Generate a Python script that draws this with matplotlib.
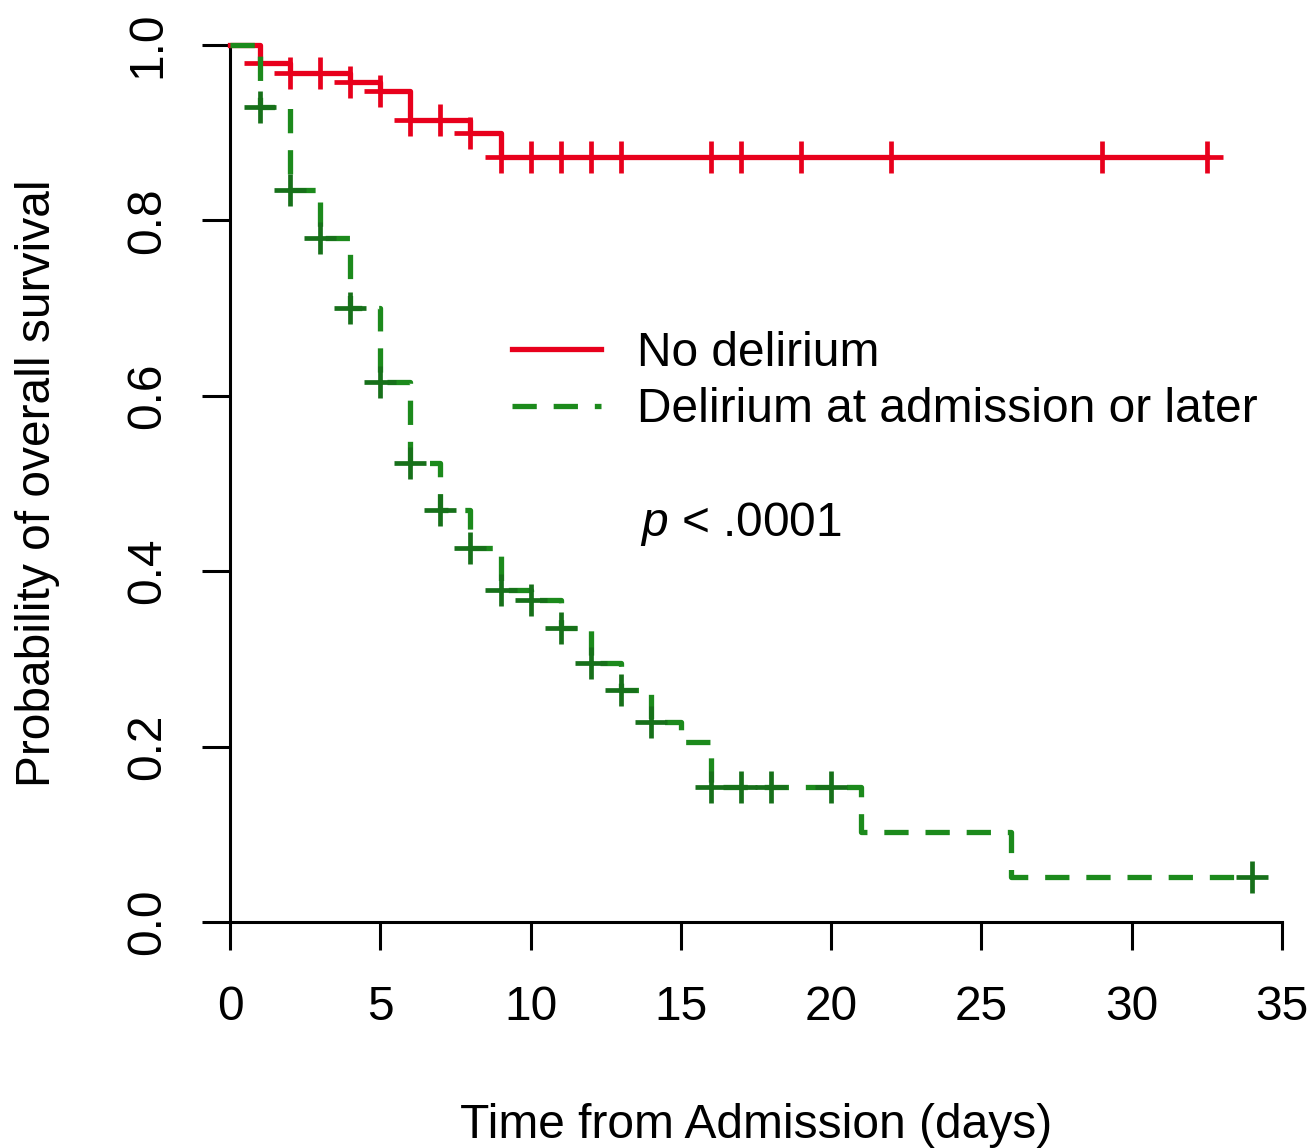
import numpy as np
import matplotlib
matplotlib.use("Agg")
import matplotlib.pyplot as plt
from matplotlib.lines import Line2D

# Kaplan-Meier step data (days, survival probability)
no_del_times = [0, 1, 2, 4, 5, 6, 8, 9, 32.5]
no_del_surv = [1.0, 0.979, 0.968, 0.958, 0.947, 0.914, 0.900, 0.872, 0.872]
no_del_censor = [1, 2, 3, 4, 5, 6, 7, 8, 9, 10, 11, 12, 13, 16, 17, 19, 22, 29, 32.5]

del_times = [0, 1, 2, 3, 4, 5, 6, 7, 8, 9, 10, 11, 12, 13, 14, 15, 16, 21, 26, 34]
del_surv = [1.0, 0.929, 0.835, 0.78, 0.70, 0.616, 0.523, 0.47, 0.426, 0.379,
            0.367, 0.335, 0.295, 0.265, 0.228, 0.205, 0.154, 0.103, 0.051, 0.051]
del_censor = [1, 2, 3, 4, 5, 6, 7, 8, 9, 10, 11, 12, 13, 14, 16, 17, 18, 20, 34]

x_ticks = [0, 5, 10, 15, 20, 25, 30, 35]
y_ticks = [0.0, 0.2, 0.4, 0.6, 0.8, 1.0]
labels = ["No delirium", "Delirium at admission or later"]

RED = "#e8001c"
GREEN = "#1c8a1c"
GREEN_MARK = "#17701a"
LW = 3.8
DASH = (4.6, 3.2)

plt.rcParams["font.family"] = ["Liberation Sans", "DejaVu Sans"]
plt.rcParams["mathtext.fontset"] = "custom"
plt.rcParams["mathtext.it"] = "Liberation Sans:italic"
plt.rcParams["mathtext.rm"] = "Liberation Sans"
FS = 34.5


def surv_at(times, surv, t):
    # survival value of a step function (right-continuous) at time t
    idx = np.searchsorted(times, t, side="right") - 1
    return np.asarray(surv)[idx]


W, H = 1312, 1148
fig = plt.figure(figsize=(W / 100, H / 100), dpi=100)
fig.patch.set_facecolor("white")
ax = fig.add_axes([230 / W, (H - 922) / H, (1282 - 230) / W, (922 - 45) / H])

ax.step(no_del_times, no_del_surv, where="post", color=RED, lw=LW,
        clip_on=False, zorder=3)
ax.plot(no_del_censor, surv_at(no_del_times, no_del_surv, no_del_censor),
        ls="none", marker="+", ms=23, mew=3.4, color=RED, clip_on=False, zorder=3)

ax.step(del_times, del_surv, where="post", color=GREEN, lw=LW,
        dashes=DASH, clip_on=False, zorder=4)
ax.plot(del_censor, surv_at(del_times, del_surv, del_censor),
        ls="none", marker="+", ms=23, mew=3.4, color=GREEN_MARK, clip_on=False, zorder=4)

ax.set_xlim(0, 35)
ax.set_ylim(0, 1)
ax.set_xticks(x_ticks)
ax.set_yticks(y_ticks)
ax.set_xticklabels([str(v) for v in x_ticks])
ax.set_yticklabels([f"{v:.1f}" for v in y_ticks])
for s in ["top", "right"]:
    ax.spines[s].set_visible(False)
for s in ["left", "bottom"]:
    ax.spines[s].set_linewidth(2.2)
ax.tick_params(axis="both", direction="out", length=20, width=2.2,
               labelsize=FS)
ax.tick_params(axis="x", pad=25)
ax.tick_params(axis="y", pad=23)
for lab in ax.get_yticklabels():
    lab.set_rotation(90)
    lab.set_va("center")

ax.set_xlabel("Time from Admission (days)", fontsize=FS, labelpad=53)
ax.set_ylabel("Probability of overall survival", fontsize=FS, labelpad=47)

handles = [Line2D([], [], color=RED, lw=LW),
           Line2D([], [], color=GREEN, lw=LW, dashes=DASH)]
ax.legend(handles, labels, loc="upper left",
          bbox_to_anchor=((512 - 230) / 1052, (922 - 331) / 877),
          frameon=False, fontsize=FS, handlelength=1.85, handletextpad=0.75,
          borderpad=0, borderaxespad=0, labelspacing=0.24)

ax.text((640 - 230) / 1052, (922 - 524) / 877, r"$p$ < .0001",
        transform=ax.transAxes, fontsize=FS, va="center", ha="left")

fig.savefig("out.png", dpi=100, facecolor="white")
